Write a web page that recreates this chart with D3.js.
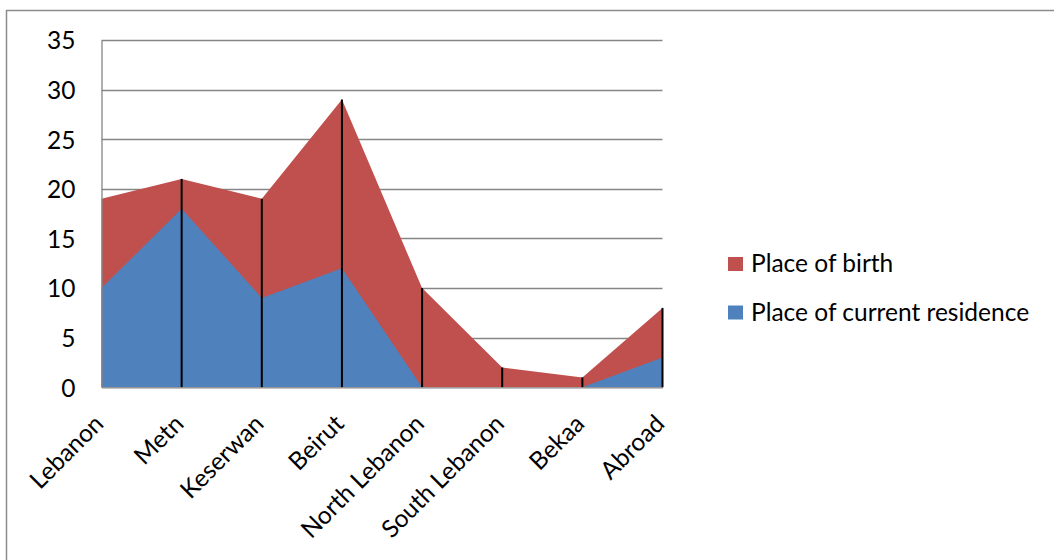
<!DOCTYPE html>
<html>
<head>
<meta charset="utf-8">
<script src="https://cdn.jsdelivr.net/npm/d3@7"></script>
<style>
  html, body { margin: 0; padding: 0; background: #fff; }
  svg { display: block; }
  text { font-family: Lato, "Noto Sans", sans-serif; fill: #000; }
</style>
</head>
<body>
<svg id="chart" width="1054" height="560"></svg>
<script>
const categories = ["Lebanon", "Metn", "Keserwan", "Beirut", "North Lebanon", "South Lebanon", "Bekaa", "Abroad"];
const placeOfBirth = [19, 21, 19, 29, 10, 2, 1, 8];
const placeOfResidence = [10, 18, 9, 12, 0, 0, 0, 3];
const yTicks = [0, 5, 10, 15, 20, 25, 30, 35];
const seriesNames = ["Place of birth", "Place of current residence"];
const seriesColors = ["#C0504D", "#4F81BD"];

const svg = d3.select("#chart");
const plot = { left: 101.5, right: 662.5, top: 40, bottom: 387.3 };
const FS = 24.5;

// outer frame (clipped at right/bottom)
svg.append("rect").attr("x", 6.5).attr("y", 10.5).attr("width", 1100).attr("height", 600)
  .attr("fill", "#fff").attr("stroke", "#8c8c8c").attr("stroke-width", 1.5);

const x = d3.scalePoint().domain(categories).range([plot.left, plot.right]);
const y = d3.scaleLinear().domain([0, 35]).range([plot.bottom, plot.top]);

// gridlines
svg.append("g").selectAll("line").data(yTicks.filter(d => d > 0)).join("line")
  .attr("x1", plot.left).attr("x2", plot.right)
  .attr("y1", d => Math.round(y(d)) + 0.5).attr("y2", d => Math.round(y(d)) + 0.5)
  .attr("stroke", "#868686").attr("stroke-width", 1.3);

const rows = categories.map((c, i) => ({ c, b: placeOfBirth[i], r: placeOfResidence[i] }));

const areaB = d3.area().x(d => x(d.c)).y0(y(0)).y1(d => y(d.b));
const areaR = d3.area().x(d => x(d.c)).y0(y(0)).y1(d => y(d.r));
svg.append("path").datum(rows).attr("d", areaB).attr("fill", seriesColors[0]);
svg.append("path").datum(rows).attr("d", areaR).attr("fill", seriesColors[1]);

// drop lines
svg.append("g").selectAll("line").data(rows.slice(1)).join("line")
  .attr("x1", d => x(d.c)).attr("x2", d => x(d.c))
  .attr("y1", d => y(d.b)).attr("y2", y(0))
  .attr("stroke", "#000").attr("stroke-width", 2);

// axes
const yAxis = d3.axisLeft(y).tickValues(yTicks).tickSize(0).tickPadding(26);
const gy = svg.append("g").attr("transform", `translate(${plot.left},0)`).call(yAxis);
gy.select(".domain").attr("stroke", "#868686").attr("stroke-width", 1.3);
gy.selectAll("text").style("font-size", FS + "px").style("font-family", "Lato").attr("dy", "0.36em");

const xAxis = d3.axisBottom(x).tickSize(0).tickPadding(0);
const gx = svg.append("g").attr("transform", `translate(0,${plot.bottom})`).call(xAxis);
gx.select(".domain").attr("stroke", "#868686").attr("stroke-width", 1.3);
gx.selectAll("text")
  .style("font-size", FS + "px")
  .style("font-family", "Lato")
  .attr("text-anchor", "end")
  .attr("dy", null)
  .attr("y", 0)
  .attr("transform", "translate(3,38) rotate(-45)");

// legend
const leg = svg.append("g");
seriesNames.forEach((name, i) => {
  const yy = 257 + i * 48.5;
  leg.append("rect").attr("x", 728).attr("y", yy).attr("width", 15).attr("height", 14).attr("fill", seriesColors[i]);
  leg.append("text").attr("x", 751).attr("y", yy + 15).style("font-size", FS + "px").text(name);
});
</script>
</body>
</html>
